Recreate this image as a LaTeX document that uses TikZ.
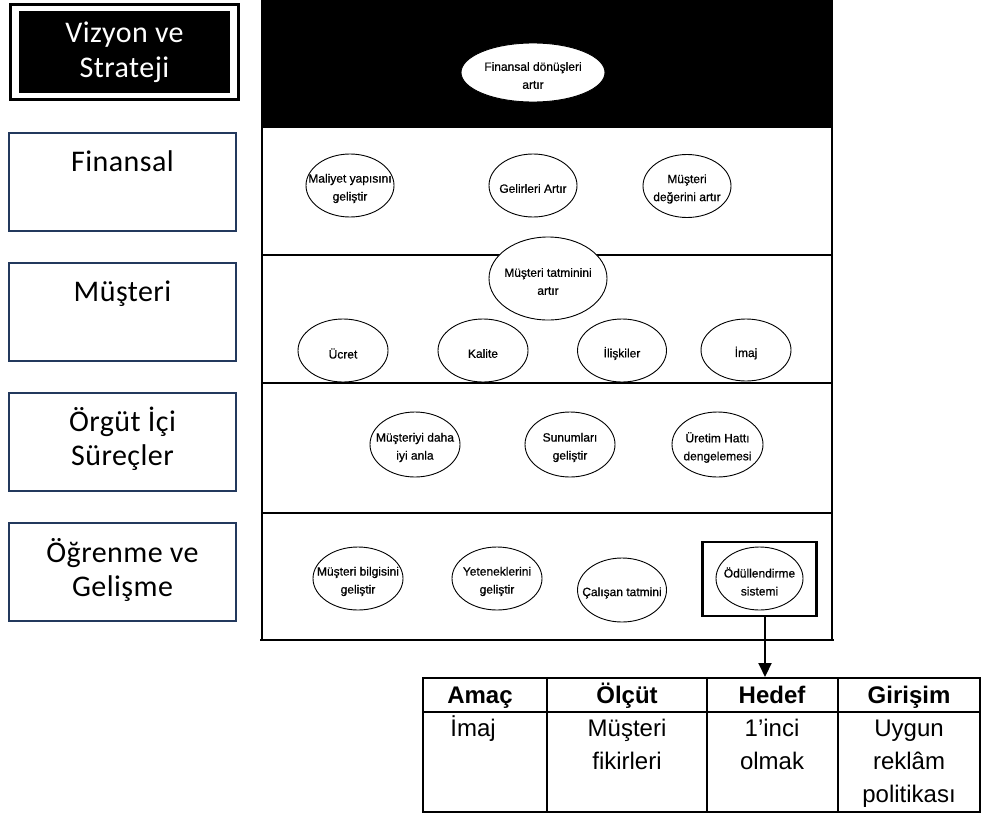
\documentclass[tikz,border=0pt]{standalone}
\usepackage{fontspec}
\usetikzlibrary{shapes.geometric,arrows.meta}
\newfontfamily\boxfont[LetterSpace=1.5]{Carlito}
\newfontfamily\ovalfont[FakeBold=0.6]{Liberation Sans}
\newfontfamily\tabfont{Liberation Sans}
\definecolor{boxblue}{HTML}{23395D}
\newcommand\linestack[1]{\begin{tabular}[t]{@{}c@{}}#1\end{tabular}}
\begin{document}
\begin{tikzpicture}[x=1pt,y=-1pt,
  ovaltxt/.style={font=\ovalfont\fontsize{12}{18}\selectfont, align=center, inner sep=0pt, yshift=-3pt},
  oval/.style n args={3}{ellipse, draw, line width=0.9pt, fill=white, inner sep=0pt,
     minimum width=#1, minimum height=#2, label={[ovaltxt]center:#3}},
  side/.style={draw=boxblue, line width=1.6pt, minimum width=227pt, minimum height=98pt, inner sep=0pt},
  sidetxt/.style={font=\boxfont\fontsize{30}{34}\selectfont, inner sep=0pt, anchor=base},
  frameline/.style={line width=2pt},
  bandline/.style={line width=1.5pt},
  gridline/.style={line width=2pt},
  head/.style={font=\tabfont\bfseries\fontsize{24}{33}\selectfont, inner sep=0pt, anchor=base},
  cell/.style={font=\tabfont\fontsize{24}{33}\selectfont, inner sep=0pt, anchor=base},
  arr/.style={line width=2pt, -{Triangle[width=13pt,length=14pt]}}
]
\useasboundingbox (0,0) rectangle (981,816);

% perspective labels on the left
\node[draw, line width=3pt, minimum width=228pt, minimum height=95pt, inner sep=0pt] (vizframe) at (124.5,52) {};
\node[fill=black, minimum width=211pt, minimum height=82pt, inner sep=0pt] (viz) at (124.5,52) {};
\node[sidetxt, text=white] (viz-t) at (124.5,43) {\linestack{Vizyon ve\\Strateji}};

\node[side] (fin) at (122.5,182) {};
\node[sidetxt] (fin-t) at (122.5,171) {Finansal};
\node[side] (cust) at (122.5,312) {};
\node[sidetxt] (cust-t) at (122.5,301) {Müşteri};
\node[side] (proc) at (122.5,442) {};
\node[sidetxt] (proc-t) at (122.5,431) {\linestack{Örgüt İçi\\Süreçler}};
\node[side] (learn) at (122.5,572) {};
\node[sidetxt] (learn-t) at (122.5,562) {\linestack{Öğrenme ve\\Gelişme}};

% strategy map frame
\fill (262,0) rectangle (832,128);
\draw[bandline] (262,255) -- (832,255);
\draw[bandline] (262,383) -- (832,383);
\draw[bandline] (262,513) -- (832,513);
\draw[frameline] (262,0) -- (262,640);
\draw[frameline] (832,0) -- (832,640);
\draw[line width=2.5pt] (260,640) -- (834,640);

% objectives
\node[oval={144pt}{59pt}{Finansal dönüşleri\\artır}] (ret) at (533,72.5) {};

\node[oval={88pt}{63pt}{Maliyet yapısını\\geliştir}] (cost) at (350,185.5) {};
\node[oval={88pt}{63pt}{Gelirleri Artır}] (rev) at (533,185.5) {};
\node[oval={88pt}{63pt}{Müşteri\\değerini artır}] (cval) at (687,186) {};

\node[oval={118pt}{83pt}{Müşteri tatminini\\artır}] (csat) at (548,278.5) {};
\node[oval={90pt}{63pt}{Ücret}] (price) at (343,350.5) {};
\node[oval={90pt}{63pt}{Kalite}] (qual) at (483,350.5) {};
\node[oval={89pt}{63pt}{İlişkiler}] (rel) at (622,350.5) {};
\node[oval={90pt}{62pt}{İmaj}] (img) at (746,350) {};

\node[oval={90pt}{65pt}{Müşteriyi daha\\iyi anla}] (know) at (415,444.5) {};
\node[oval={90pt}{65pt}{Sunumları\\geliştir}] (pres) at (570,444.5) {};
\node[oval={91pt}{65pt}{Üretim Hattı\\dengelemesi}] (prodline) at (717.5,444.5) {};

\node[oval={90pt}{63pt}{Müşteri bilgisini\\geliştir}] (cinfo) at (358,578.5) {};
\node[oval={90pt}{63pt}{Yeteneklerini\\geliştir}] (skill) at (497,578.5) {};
\node[oval={89pt}{64pt}{Çalışan tatmini}] (emp) at (622,590) {};
\node[draw, line width=2.6pt, minimum width=114pt, minimum height=74pt, inner sep=0pt] (rewardbox) at (759.5,579) {};
\node[oval={87pt}{63pt}{Ödüllendirme\\sistemi}] (reward) at (759.5,578.5) {};

% detail table
\coordinate (tabtop) at (765,677);
\draw[arr] (rewardbox.south -| tabtop) -- (tabtop);

\draw[gridline] (423,678) rectangle (979.5,812);
\draw[gridline] (423,712) -- (979.5,712);
\draw[gridline] (547,678) -- (547,812);
\draw[gridline] (707,678) -- (707,812);
\draw[gridline] (838,678) -- (838,812);

\node[head] (h-goal) at (480,703) {Amaç};
\node[head] (h-meas) at (627,703) {Ölçüt};
\node[head] (h-target) at (772,703) {Hedef};
\node[head] (h-init) at (909,703) {Girişim};

\node[cell] (c-goal) at (473,736) {İmaj};
\node[cell] (c-meas) at (627,736) {\linestack{Müşteri\\fikirleri}};
\node[cell] (c-target) at (772,736) {\linestack{1’inci\\olmak}};
\node[cell] (c-init) at (909,736) {\linestack{Uygun\\reklâm\\politikası}};
\end{tikzpicture}
\end{document}
